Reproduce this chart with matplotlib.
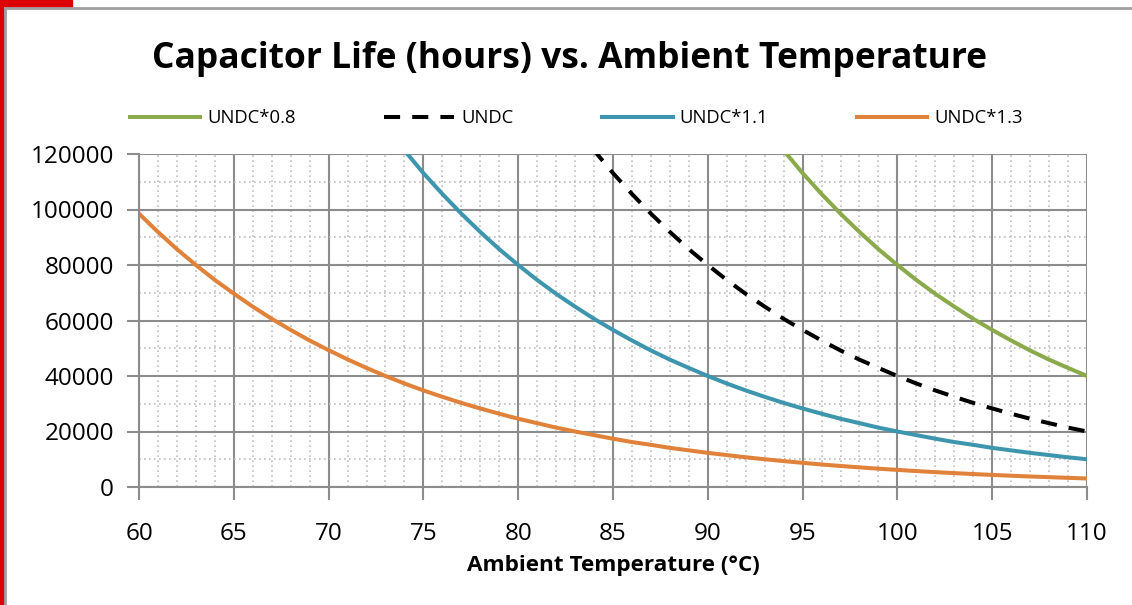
import matplotlib.pyplot as plt
from matplotlib.patches import Rectangle
from matplotlib.lines import Line2D
from matplotlib.ticker import MultipleLocator

# temperatures (deg C) and life (hours)
temp_08 = list(range(93, 111))
life_08 = [130000, 121300, 113100, 105600, 98500, 91900, 85700, 80000, 74600,
           69600, 65000, 60600, 56600, 52800, 49200, 45900, 42900, 40000]

temp_10 = list(range(83, 111))
life_10 = [130000, 121300, 113100, 105600, 98500, 91900, 85700, 80000, 74600,
           69600, 65000, 60600, 56600, 52800, 49200, 45900, 42900, 40000,
           37300, 34800, 32500, 30300, 28300, 26400, 24600, 23000, 21400, 20000]

temp_11 = list(range(73, 111))
life_11 = [130000, 121300, 113100, 105600, 98500, 91900, 85700, 80000, 74600,
           69600, 65000, 60600, 56600, 52800, 49200, 45900, 42900, 40000,
           37300, 34800, 32500, 30300, 28300, 26400, 24600, 23000, 21400, 20000,
           18700, 17400, 16200, 15200, 14100, 13200, 12300, 11500, 10700, 10000]

temp_13 = list(range(60, 111))
life_13 = [98500, 91900, 85700, 80000, 74600, 69700, 65000, 60600, 56600, 52800,
           49300, 46000, 42900, 40000, 37300, 34800, 32500, 30300, 28300, 26400,
           24600, 23000, 21400, 20000, 18700, 17400, 16200, 15200, 14100, 13200,
           12300, 11500, 10700, 10000, 9330, 8710, 8120, 7580, 7070, 6600,
           6160, 5740, 5360, 5000, 4670, 4350, 4060, 3790, 3540, 3300, 3080]

labels = ["UNDC*0.8", "UNDC", "UNDC*1.1", "UNDC*1.3"]
colors = ["#8aaa4b", "#000000", "#3d96ae", "#e0823a"]

plt.rcParams['font.family'] = ['Open Sans', 'DejaVu Sans']

fig = plt.figure(figsize=(11.32, 6.05), dpi=100)

# slide decoration on the left / top
fig.patches.append(Rectangle((0, 1 - 7/605), 72/1132, 7/605, transform=fig.transFigure,
                             color="#dd0000", zorder=0))
fig.patches.append(Rectangle((0, 0), 4/1132, 1, transform=fig.transFigure,
                             color="#dd0000", zorder=0))
fig.add_artist(Line2D([5/1132, 1], [1 - 8/605, 1 - 8/605], transform=fig.transFigure,
                      color="#a0a0a0", lw=2))
fig.add_artist(Line2D([5/1132, 5/1132], [0, 1 - 8/605], transform=fig.transFigure,
                      color="#a0a0a0", lw=2))

ax = fig.add_axes([139/1132, 1 - 487/605, (1087 - 139)/1132, (487 - 154)/605])

ax.plot(temp_08, life_08, color=colors[0], lw=2.9, label=labels[0])
ax.plot(temp_10, life_10, color=colors[1], lw=2.9, dashes=(4, 3), label=labels[1])
ax.plot(temp_11, life_11, color=colors[2], lw=2.9, label=labels[2])
ax.plot(temp_13, life_13, color=colors[3], lw=2.9, label=labels[3])

ax.set_xlim(60, 110)
ax.set_ylim(0, 120000)
ax.xaxis.set_major_locator(MultipleLocator(5))
ax.xaxis.set_minor_locator(MultipleLocator(1))
ax.yaxis.set_major_locator(MultipleLocator(20000))
ax.yaxis.set_minor_locator(MultipleLocator(10000))

ax.grid(which="major", color="#8c8c8c", lw=1.5)
ax.grid(which="minor", color="#bdbdbd", lw=1.2, ls=(0, (1, 2)))
ax.set_axisbelow(True)

for s in ["top", "right"]:
    ax.spines[s].set_visible(False)
for s in ["left", "bottom"]:
    ax.spines[s].set_color("#8c8c8c")
    ax.spines[s].set_linewidth(1.5)

ax.tick_params(which="major", direction="out", length=9, width=1.5, color="#8c8c8c",
               labelsize=17.5)
ax.tick_params(axis="y", pad=9)
ax.tick_params(axis="x", pad=16)
ax.tick_params(which="minor", length=0)

ax.set_xlabel("Ambient Temperature (°C)", fontsize=16.2, fontweight="bold", labelpad=7)

fig.text(0.503, 0.903, "Capacitor Life (hours) vs. Ambient Temperature",
         ha="center", va="center", fontsize=25.5, fontweight="bold")

fig.legend(loc="center", bbox_to_anchor=(0.509, 0.805), ncol=4, frameon=False,
           fontsize=13.3, handlelength=3.8, columnspacing=4.8, handletextpad=0.38)

fig.savefig("out.png", dpi=100)
